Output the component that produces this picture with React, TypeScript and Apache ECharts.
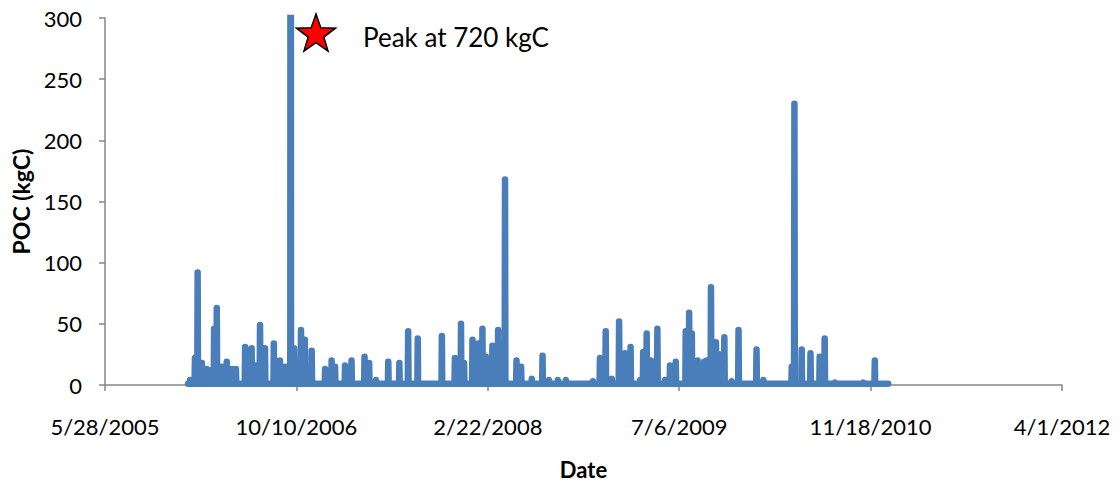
import React, { useEffect, useRef } from "react";
import * as echarts from "echarts";

// Days since 5/28/2005, POC (kgC)
const observations: [number, number][] = [
  [217, 1],
  [221, 1], [222, 4], [223, 1],
  [234, 1], [235, 22], [236, 1],
  [241, 1], [242, 92], [243, 1],
  [252, 1], [253, 18], [254, 1],
  [265, 1], [266, 13], [267, 1],
  [271, 1], [272, 12], [273, 1],
  [284, 1], [285, 46], [286, 1],
  [291, 1], [292, 63], [293, 1],
  [304, 1], [305, 15], [306, 1],
  [317, 1], [318, 19], [319, 1],
  [330, 1], [331, 13], [332, 1],
  [341, 1], [342, 13], [343, 1],
  [365, 1], [366, 31], [367, 1],
  [382, 1], [383, 30], [384, 1],
  [393, 1], [394, 16], [395, 1],
  [404, 1], [405, 49], [406, 1],
  [417, 1], [418, 30], [419, 1],
  [440, 1], [441, 34], [442, 1],
  [456, 1], [457, 20], [458, 1],
  [469, 1], [470, 15], [471, 1],
  [484, 1], [485, 720], [486, 1],
  [493, 1], [494, 30], [495, 1],
  [511, 1], [512, 45], [513, 1],
  [521, 1], [522, 37], [523, 1],
  [539, 1], [540, 28], [541, 1],
  [574, 1], [575, 13], [576, 1],
  [591, 1], [592, 20], [593, 1],
  [600, 1], [601, 15], [602, 1],
  [626, 1], [627, 16], [628, 1],
  [643, 1], [644, 20], [645, 1],
  [677, 1], [678, 23], [679, 1],
  [689, 1], [690, 18], [691, 1],
  [707, 1], [708, 4], [709, 1],
  [739, 1], [740, 19], [741, 1],
  [768, 1], [769, 18], [770, 1],
  [791, 1], [792, 44], [793, 1],
  [816, 1], [817, 38], [818, 1],
  [879, 1], [880, 40], [881, 1],
  [913, 1], [914, 22], [915, 1],
  [929, 1], [930, 50], [931, 1],
  [937, 1], [938, 18], [939, 1],
  [959, 1], [960, 37], [961, 1],
  [974, 1], [975, 34], [976, 1],
  [985, 1], [986, 46], [987, 1],
  [994, 1], [995, 23], [996, 1],
  [1011, 1], [1012, 32], [1013, 1],
  [1026, 1], [1027, 45], [1028, 1],
  [1044, 1], [1045, 168], [1046, 1],
  [1074, 1], [1075, 20], [1076, 1],
  [1086, 1], [1087, 15], [1088, 1],
  [1114, 1], [1115, 5], [1116, 1],
  [1142, 1], [1143, 24], [1144, 1],
  [1159, 1], [1160, 4], [1161, 1],
  [1182, 1], [1183, 4], [1184, 1],
  [1203, 1], [1204, 4], [1205, 1],
  [1274, 1], [1275, 3], [1276, 1],
  [1292, 1], [1293, 22], [1294, 1],
  [1307, 1], [1308, 44], [1309, 1],
  [1323, 1], [1324, 5], [1325, 1],
  [1342, 1], [1343, 52], [1344, 1],
  [1357, 1], [1358, 26], [1359, 1],
  [1372, 1], [1373, 31], [1374, 1],
  [1397, 1], [1398, 4], [1399, 1],
  [1405, 1], [1406, 27], [1407, 1],
  [1414, 1], [1415, 42], [1416, 1],
  [1425, 1], [1426, 20], [1427, 1],
  [1442, 1], [1443, 46], [1444, 1],
  [1462, 1], [1463, 4], [1464, 1],
  [1475, 1], [1476, 16], [1477, 1],
  [1490, 1], [1491, 19], [1492, 1],
  [1516, 1], [1517, 44], [1518, 1],
  [1525, 1], [1526, 59], [1527, 1],
  [1532, 1], [1533, 42], [1534, 1],
  [1547, 1], [1548, 20], [1549, 1],
  [1564, 1], [1565, 19], [1566, 1],
  [1571, 1], [1572, 20], [1573, 1],
  [1582, 1], [1583, 80], [1584, 1],
  [1595, 1], [1596, 35], [1597, 1],
  [1606, 1], [1607, 25], [1608, 1],
  [1617, 1], [1618, 39], [1619, 1],
  [1636, 1], [1637, 3], [1638, 1],
  [1654, 1], [1655, 45], [1656, 1],
  [1701, 1], [1702, 29], [1703, 1],
  [1719, 1], [1720, 4], [1721, 1],
  [1793, 1], [1794, 15], [1795, 1],
  [1800, 1], [1801, 230], [1802, 1],
  [1819, 1], [1820, 29], [1821, 1],
  [1842, 1], [1843, 26], [1844, 1],
  [1866, 1], [1867, 23], [1868, 1],
  [1879, 1], [1880, 38], [1881, 1],
  [1906, 1], [1907, 2], [1908, 1],
  [1980, 1], [1981, 2], [1982, 1],
  [2010, 1], [2011, 20], [2012, 1],
  [2046, 1],
];

const xStartUTC = Date.UTC(2005, 4, 28);
const xTicksDays = { min: 0, max: 2500, interval: 500 };
const yTicks = { min: 0, max: 300, interval: 50 };
const annotationText = "Peak at 720 kgC";
const yTitle = "POC (kgC)";
const xTitle = "Date";

function dayToLabel(d: number): string {
  const dt = new Date(xStartUTC + d * 86400000);
  return `${dt.getUTCMonth() + 1}/${dt.getUTCDate()}/${dt.getUTCFullYear()}`;
}

function starPoints(cx: number, cy: number, R: number, r: number): number[][] {
  const pts: number[][] = [];
  for (let i = 0; i < 10; i++) {
    const a = -Math.PI / 2 + (i * Math.PI) / 5;
    const rad = i % 2 === 0 ? R : r;
    pts.push([cx + rad * Math.cos(a), cy + rad * Math.sin(a)]);
  }
  return pts;
}

export default function App() {
  const ref = useRef<HTMLDivElement>(null);
  useEffect(() => {
    if (!ref.current) return;
    const chart = echarts.init(ref.current, null, { renderer: "svg" });
    const axisColor = "#868686";
    const font = "Lato";
    chart.setOption({
      animation: false,
      backgroundColor: "#ffffff",
      grid: { left: 105, right: 58, top: 18, bottom: 100, containLabel: false },
      xAxis: {
        type: "value",
        min: xTicksDays.min,
        max: xTicksDays.max,
        interval: xTicksDays.interval,
        axisLine: { show: true, onZero: false, lineStyle: { color: axisColor, width: 1.5 } },
        axisTick: { show: true, length: 6, lineStyle: { color: axisColor, width: 1.5 } },
        splitLine: { show: false },
        axisLabel: {
          margin: 30,
          fontFamily: font,
          fontSize: 22,
          color: "#000",
          formatter: (v: number) => dayToLabel(v),
        },
        name: xTitle,
        nameLocation: "middle",
        nameGap: 73,
        nameTextStyle: { fontFamily: font, fontSize: 22, fontWeight: "bold", color: "#000" },
      },
      yAxis: {
        type: "value",
        min: yTicks.min,
        max: yTicks.max,
        interval: yTicks.interval,
        axisLine: { show: true, lineStyle: { color: axisColor, width: 1.5 } },
        axisTick: { show: true, length: 6, lineStyle: { color: axisColor, width: 1.5 } },
        splitLine: { show: false },
        axisLabel: { margin: 23, fontFamily: font, fontSize: 22, color: "#000" },
        name: yTitle,
        nameLocation: "middle",
        nameGap: 72,
        nameTextStyle: { fontFamily: font, fontSize: 23, fontWeight: "bold", color: "#000" },
      },
      series: [
        {
          type: "line",
          data: observations,
          symbol: "none",
          showSymbol: false,
          clip: true,
          lineStyle: { color: "#4A7EBB", width: 6.5, cap: "round", join: "round" },
        },
      ],
      graphic: [
        {
          type: "polygon",
          shape: { points: starPoints(316, 34.5, 20.5, 8.2) },
          style: { fill: "#FF0000", stroke: "#000", lineWidth: 1.5 },
          z: 100,
        },
        {
          type: "text",
          x: 363,
          y: 37,
          style: {
            text: annotationText,
            fontFamily: font,
            fontSize: 26,
            fill: "#000",
            textVerticalAlign: "middle",
          },
          z: 100,
        },
      ],
    });
    return () => chart.dispose();
  }, []);
  return (
    <div
      ref={ref}
      style={{ position: "fixed", left: 0, top: 0, width: 1120, height: 485, background: "#fff" }}
    />
  );
}
